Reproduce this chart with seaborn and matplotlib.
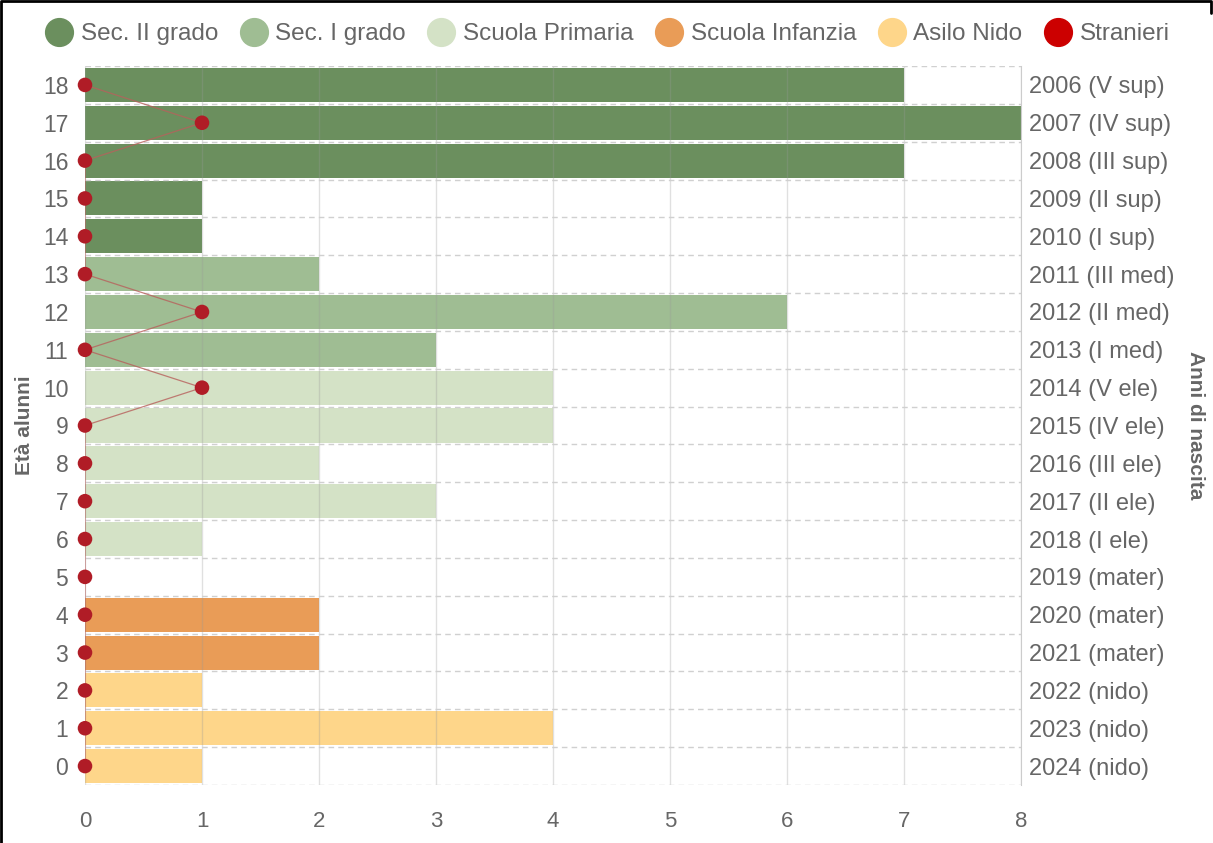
import numpy as np
import pandas as pd
import matplotlib
matplotlib.use("Agg")
import matplotlib.pyplot as plt
from matplotlib.lines import Line2D
import seaborn as sns

# Data
ages = [18, 17, 16, 15, 14, 13, 12, 11, 10, 9, 8, 7, 6, 5, 4, 3, 2, 1, 0]
alunni = [7, 8, 7, 1, 1, 2, 6, 3, 4, 4, 2, 3, 1, 0, 2, 2, 1, 4, 1]
stranieri = [0, 1, 0, 0, 0, 0, 1, 0, 1, 0, 0, 0, 0, 0, 0, 0, 0, 0, 0]
scuola = (["Sec. II grado"] * 5 + ["Sec. I grado"] * 3 + ["Scuola Primaria"] * 5
          + ["Scuola Infanzia"] * 3 + ["Asilo Nido"] * 3)
anni_nascita = ["2006 (V sup)", "2007 (IV sup)", "2008 (III sup)", "2009 (II sup)",
                "2010 (I sup)", "2011 (III med)", "2012 (II med)", "2013 (I med)",
                "2014 (V ele)", "2015 (IV ele)", "2016 (III ele)", "2017 (II ele)",
                "2018 (I ele)", "2019 (mater)", "2020 (mater)", "2021 (mater)",
                "2022 (nido)", "2023 (nido)", "2024 (nido)"]

colori = {
    "Sec. II grado": "#6b8f5e",
    "Sec. I grado": "#9fbd93",
    "Scuola Primaria": "#d4e2c6",
    "Scuola Infanzia": "#e99c57",
    "Asilo Nido": "#fed68a",
}

df = pd.DataFrame({"eta": ages, "alunni": alunni, "stranieri": stranieri,
                   "scuola": scuola})

sns.set_style("white")
plt.rcParams["font.family"] = ["Liberation Sans Narrow", "Liberation Sans", "DejaVu Sans"]
grey = "#666666"

fig = plt.figure(figsize=(12.13, 8.43), dpi=100)
ax = fig.add_axes([85 / 1213, 1 - 785 / 843, (1021 - 85) / 1213, (785 - 66) / 843])

sns.barplot(data=df, x="alunni", y="eta", hue="scuola", palette=colori,
            orient="y", native_scale=True, dodge=False, width=0.9,
            saturation=1, legend=False, ax=ax, zorder=2, linewidth=0)

sns.lineplot(data=df, x="stranieri", y="eta", sort=False, orient="y",
             color="#b8605c", linewidth=0.9, alpha=0.8, ax=ax, zorder=3)
sns.scatterplot(data=df, x="stranieri", y="eta", color="#b01c26", s=110,
                edgecolor="none", ax=ax, zorder=4, clip_on=False)

ax.set_xlim(0, 8)
ax.set_ylim(-0.5, 18.5)
ax.set_yticks(ages)
ax.set_yticklabels([str(a) for a in ages])
ax.set_xticks(range(9))
for s in ax.spines.values():
    s.set_visible(False)

# grids
for v in range(9):
    ax.axvline(v, color="#999999", alpha=0.3, lw=1, zorder=2.5)
for h in np.arange(-0.5, 19, 1):
    ax.axhline(h, color="#d0d0d0", lw=1, ls=(0, (4, 3)), zorder=2.5)

ax.tick_params(axis="x", length=14, width=1, color="#dddddd", labelsize=16,
               labelcolor=grey, pad=5)
ax.tick_params(axis="y", length=0, labelsize=16.5, labelcolor=grey, pad=12)
ax.set_xlabel("")
ax.set_ylabel("Età alunni", fontsize=15, color=grey, fontweight="bold")
ax.yaxis.set_label_coords(-0.055, 0.5)

ax2 = ax.twinx()
ax2.set_ylim(-0.5, 18.5)
ax2.set_yticks(ages)
ax2.set_yticklabels(anni_nascita)
ax2.tick_params(axis="y", length=0, labelsize=17, labelcolor=grey, pad=6)
for s in ax2.spines.values():
    s.set_visible(False)
ax2.spines["right"].set_visible(True)
ax2.spines["right"].set_color("#cccccc")
ax2.set_ylabel("Anni di nascita", fontsize=15, color=grey, fontweight="bold",
               rotation=-90, va="center")
ax2.yaxis.set_label_coords(1.186, 0.5)

# legend
handles = [Line2D([], [], marker="o", ls="none", markersize=20, color=c, label=k)
           for k, c in colori.items()]
handles.append(Line2D([], [], marker="o", ls="none", markersize=20,
                      color="#cc0000", label="Stranieri"))
leg = fig.legend(handles=handles, loc="center", bbox_to_anchor=(0.5, 1 - 34 / 843),
                 ncol=6, frameon=False, fontsize=17.5, handletextpad=0.25,
                 columnspacing=0.8, handlelength=1.3)
for t in leg.get_texts():
    t.set_color(grey)

# screenshot frame (left, top and a short piece on the right)
fig.add_artist(Line2D([0.0012, 0.0012, 0.998, 0.998], [0, 0.9985, 0.9985, 0.985],
                      color="black", lw=2, transform=fig.transFigure))

fig.savefig("out.png", dpi=100)
